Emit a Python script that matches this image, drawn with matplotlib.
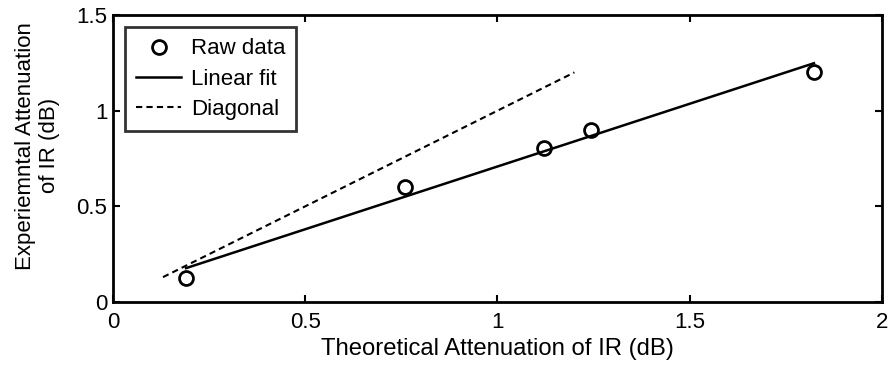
import matplotlib
matplotlib.use("Agg")
import matplotlib.pyplot as plt

# Donnees
raw_x = [0.19, 0.76, 1.12, 1.243, 1.823]
raw_y = [0.125, 0.60, 0.805, 0.90, 1.20]

fit_x = [0.19, 1.823]
fit_y = [0.177, 1.248]

diag_x = [0.13, 1.2]
diag_y = [0.13, 1.2]

plt.rcParams['font.family'] = ['Liberation Sans', 'DejaVu Sans']

fig = plt.figure(figsize=(8.91, 3.69), dpi=100)
ax = fig.add_axes([113 / 891, 1 - 302 / 369, 769 / 891, 287 / 369])

ax.plot(raw_x, raw_y, 'o', mfc='none', mec='black', ms=10, mew=2, label='Raw data')
ax.plot(fit_x, fit_y, '-', color='black', lw=1.8, label='Linear fit')
ax.plot(diag_x, diag_y, '--', color='black', lw=1.5, dashes=(3, 2), label='Diagonal')

ax.set_xlim(0, 2)
ax.set_ylim(0, 1.5)
ax.set_xticks([0, 0.5, 1, 1.5, 2])
ax.set_yticks([0, 0.5, 1, 1.5])
ax.set_xticklabels(['0', '0.5', '1', '1.5', '2'])
ax.set_yticklabels(['0', '0.5', '1', '1.5'])
ax.tick_params(direction='in', length=5, width=1.5, top=True, right=True,
               labelsize=16)
ax.tick_params(axis='x', pad=7)
ax.tick_params(axis='y', pad=4)
for s in ax.spines.values():
    s.set_linewidth(2)

ax.set_xlabel('Theoretical Attenuation of IR (dB)', fontsize=17.2, labelpad=4)
ax.set_ylabel('Experiemntal Attenuation\nof IR (dB)', fontsize=16)
ax.yaxis.set_label_coords(-0.069, 0.545)

leg = ax.legend(loc='upper left', fontsize=16, frameon=True, fancybox=False,
                edgecolor='black', borderpad=0.5, handlelength=2.0,
                handletextpad=0.45, labelspacing=0.42, borderaxespad=0.55)
leg.get_frame().set_linewidth(2)

fig.savefig('out.png', dpi=100)
